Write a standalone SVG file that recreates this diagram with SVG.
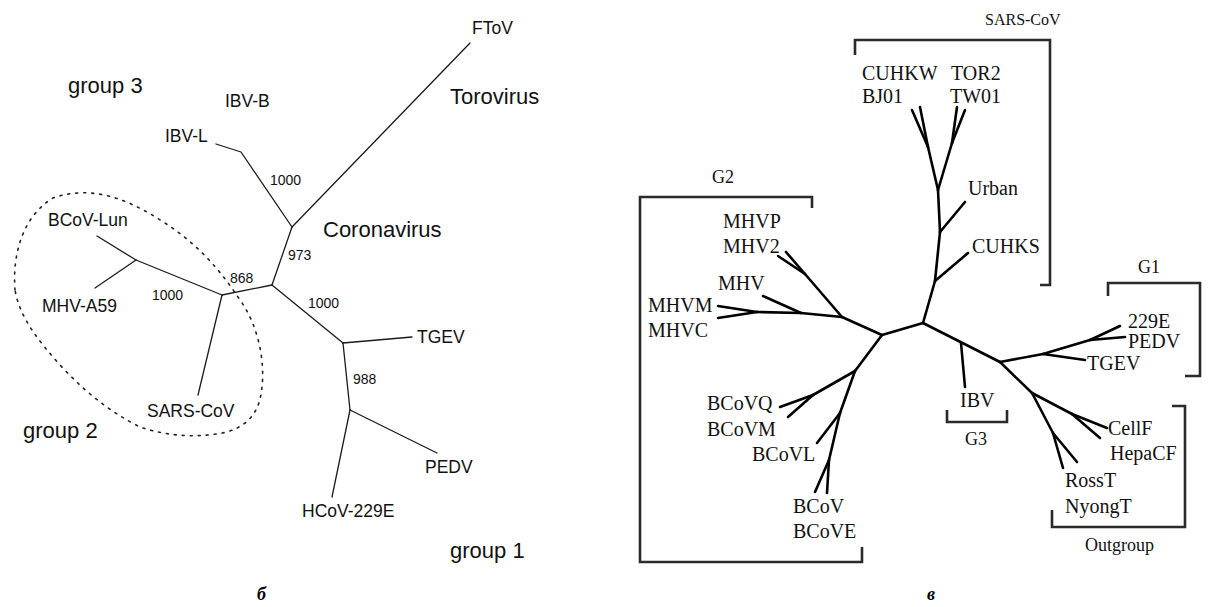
<svg xmlns="http://www.w3.org/2000/svg" width="1208" height="607" viewBox="0 0 1208 607">
<style>
.sans{font-family:"Liberation Sans",Arial,sans-serif;fill:#111}
.big{font-size:22px}
.lab{font-size:17.5px}
.num{font-size:14px}
.serif{font-family:"Liberation Serif","Times New Roman",serif;fill:#111;font-size:20px}
.grp{font-size:18px}
.tl{fill:none;stroke:#1a1a1a;stroke-width:1.3;stroke-linecap:round;stroke-linejoin:round}
.tr{fill:none;stroke:#000;stroke-width:2.6;stroke-linecap:round;stroke-linejoin:round}
.br{fill:none;stroke:#2a2a2a;stroke-width:2.6}
.ell{fill:none;stroke:#222;stroke-width:1.6;stroke-dasharray:2 6;stroke-linecap:round}
.pan{font-family:"Liberation Serif","Times New Roman",serif;font-style:italic;font-weight:bold;font-size:18px;fill:#000}
</style>
<rect width="1208" height="607" fill="#fff"/>

<g id="left-tree">
<g id="connectors-left">
<polyline class="tl" points="216,144 241,152 292,227"/>
<line class="tl" x1="292" y1="227" x2="470" y2="43"/>
<line class="tl" x1="292" y1="227" x2="272" y2="285"/>
<line class="tl" x1="272" y1="285" x2="222" y2="295"/>
<line class="tl" x1="222" y1="295" x2="198" y2="395"/>
<line class="tl" x1="222" y1="295" x2="136" y2="260"/>
<line class="tl" x1="136" y1="260" x2="97" y2="236"/>
<line class="tl" x1="136" y1="260" x2="95" y2="288"/>
<line class="tl" x1="272" y1="285" x2="343" y2="343"/>
<line class="tl" x1="343" y1="343" x2="412" y2="337"/>
<line class="tl" x1="343" y1="343" x2="350" y2="410"/>
<line class="tl" x1="350" y1="410" x2="437" y2="453"/>
<line class="tl" x1="350" y1="410" x2="332" y2="497"/>
</g>
<path id="group2-outline" class="ell" d="M15,290 C12,250 25,215 53,198 C90,185 125,198 157,218 C190,238 215,262 240,300 C258,325 265,360 262,387 C260,410 250,425 227,432 C200,438 170,437 140,427 C110,412 85,392 60,365 C38,340 20,318 15,290 Z"/>
<g id="n-group3"><text class="sans big" x="68" y="93">group 3</text></g>
<g id="n-IBV-B"><text class="sans lab" x="225" y="107">IBV-B</text></g>
<g id="n-IBV-L"><text class="sans lab" x="165" y="142">IBV-L</text></g>
<g id="n-FToV"><text class="sans lab" x="472" y="34">FToV</text></g>
<g id="n-Torovirus"><text class="sans big" x="450" y="104">Torovirus</text></g>
<g id="n-Coronavirus"><text class="sans big" x="323" y="237">Coronavirus</text></g>
<g id="b-1000a"><text class="sans num" x="270" y="185">1000</text></g>
<g id="b-973"><text class="sans num" x="288" y="260">973</text></g>
<g id="b-868"><text class="sans num" x="230" y="283">868</text></g>
<g id="b-1000b"><text class="sans num" x="152" y="300">1000</text></g>
<g id="b-1000c"><text class="sans num" x="308" y="308">1000</text></g>
<g id="b-988"><text class="sans num" x="353" y="384">988</text></g>
<g id="n-BCoV-Lun"><text class="sans lab" x="48" y="226">BCoV-Lun</text></g>
<g id="n-MHV-A59"><text class="sans lab" x="42" y="312">MHV-A59</text></g>
<g id="n-SARS-CoV-l"><text class="sans lab" x="147" y="417">SARS-CoV</text></g>
<g id="n-group2"><text class="sans big" x="23" y="438">group 2</text></g>
<g id="n-TGEV-l"><text class="sans lab" x="417" y="343">TGEV</text></g>
<g id="n-PEDV-l"><text class="sans lab" x="425" y="473">PEDV</text></g>
<g id="n-HCoV"><text class="sans lab" x="302" y="517">HCoV-229E</text></g>
<g id="n-group1"><text class="sans big" x="450" y="558">group 1</text></g>
<text class="pan" x="257" y="600">б</text>
</g>

<g id="right-tree">
<g id="connectors-right">
<!-- SARS clade -->
<line class="tr" x1="923" y1="323" x2="935" y2="281"/>
<line class="tr" x1="935" y1="281" x2="940" y2="232"/>
<line class="tr" x1="940" y1="232" x2="938" y2="190"/>
<line class="tr" x1="935" y1="281" x2="968" y2="253"/>
<line class="tr" x1="940" y1="232" x2="965" y2="202"/>
<line class="tr" x1="938" y1="190" x2="928" y2="147"/>
<line class="tr" x1="928" y1="147" x2="912" y2="110"/>
<line class="tr" x1="928" y1="147" x2="920" y2="107"/>
<line class="tr" x1="938" y1="190" x2="952" y2="143"/>
<line class="tr" x1="952" y1="143" x2="957" y2="107"/>
<line class="tr" x1="952" y1="143" x2="965" y2="110"/>
<!-- G2 -->
<line class="tr" x1="923" y1="323" x2="882" y2="335"/>
<line class="tr" x1="882" y1="335" x2="842" y2="317"/>
<line class="tr" x1="842" y1="317" x2="805" y2="274"/>
<line class="tr" x1="805" y1="274" x2="778" y2="256"/>
<line class="tr" x1="805" y1="274" x2="786" y2="252"/>
<line class="tr" x1="842" y1="317" x2="801" y2="313"/>
<line class="tr" x1="801" y1="313" x2="763" y2="296"/>
<line class="tr" x1="801" y1="313" x2="757" y2="312"/>
<line class="tr" x1="757" y1="312" x2="718" y2="306"/>
<line class="tr" x1="757" y1="312" x2="718" y2="318"/>
<line class="tr" x1="882" y1="335" x2="855" y2="371"/>
<line class="tr" x1="855" y1="371" x2="813" y2="395"/>
<line class="tr" x1="813" y1="395" x2="780" y2="407"/>
<line class="tr" x1="813" y1="395" x2="788" y2="417"/>
<line class="tr" x1="855" y1="371" x2="840" y2="413"/>
<line class="tr" x1="840" y1="413" x2="817" y2="443"/>
<line class="tr" x1="840" y1="413" x2="829" y2="460"/>
<line class="tr" x1="829" y1="460" x2="815" y2="492"/>
<line class="tr" x1="829" y1="460" x2="827" y2="493"/>
<!-- G3 / G1 / outgroup -->
<line class="tr" x1="923" y1="323" x2="1000" y2="362"/>
<line class="tr" x1="961" y1="343" x2="965" y2="387"/>
<line class="tr" x1="1000" y1="362" x2="1043" y2="354"/>
<line class="tr" x1="1043" y1="354" x2="1090" y2="340"/>
<line class="tr" x1="1090" y1="340" x2="1120" y2="326"/>
<line class="tr" x1="1090" y1="340" x2="1125" y2="337"/>
<line class="tr" x1="1043" y1="354" x2="1085" y2="360"/>
<line class="tr" x1="1000" y1="362" x2="1032" y2="393"/>
<line class="tr" x1="1032" y1="393" x2="1072" y2="414"/>
<line class="tr" x1="1072" y1="414" x2="1107" y2="428"/>
<line class="tr" x1="1072" y1="414" x2="1100" y2="438"/>
<line class="tr" x1="1032" y1="393" x2="1053" y2="433"/>
<line class="tr" x1="1053" y1="433" x2="1063" y2="468"/>
<line class="tr" x1="1053" y1="433" x2="1077" y2="462"/>
</g>
<g id="brackets">
<path class="br" d="M855,55 V40 H1050 V285 H1040"/>
<path class="br" d="M812,208 V197 H640 V562 H862 V547"/>
<path class="br" d="M1108,296 V283 H1200 V376 H1185"/>
<path class="br" d="M947,410 V422 H1007 V410"/>
<path class="br" d="M1172,406 H1185 V527 H1052 V510"/>
</g>
<g id="n-SARS-CoV-r"><text class="serif" style="font-size:16px" x="985" y="25">SARS-CoV</text></g>
<g id="n-CUHKW"><text class="serif" x="862" y="80">CUHKW</text></g>
<g id="n-TOR2"><text class="serif" x="951" y="80">TOR2</text></g>
<g id="n-BJ01"><text class="serif" x="862" y="103">BJ01</text></g>
<g id="n-TW01"><text class="serif" x="950" y="103">TW01</text></g>
<g id="n-Urban"><text class="serif" x="968" y="195">Urban</text></g>
<g id="n-CUHKS"><text class="serif" x="972" y="253">CUHKS</text></g>
<g id="n-G2"><text class="serif grp" x="712" y="183">G2</text></g>
<g id="n-MHVP"><text class="serif" x="723" y="228">MHVP</text></g>
<g id="n-MHV2"><text class="serif" x="723" y="253">MHV2</text></g>
<g id="n-MHV"><text class="serif" x="718" y="290">MHV</text></g>
<g id="n-MHVM"><text class="serif" x="648" y="312">MHVM</text></g>
<g id="n-MHVC"><text class="serif" x="648" y="337">MHVC</text></g>
<g id="n-BCoVQ"><text class="serif" x="707" y="410">BCoVQ</text></g>
<g id="n-BCoVM"><text class="serif" x="707" y="436">BCoVM</text></g>
<g id="n-BCoVL"><text class="serif" x="752" y="461">BCoVL</text></g>
<g id="n-BCoV"><text class="serif" x="793" y="513">BCoV</text></g>
<g id="n-BCoVE"><text class="serif" x="793" y="538">BCoVE</text></g>
<g id="n-G1"><text class="serif grp" x="1138" y="273">G1</text></g>
<g id="n-229E"><text class="serif" x="1128" y="328">229E</text></g>
<g id="n-PEDV-r"><text class="serif" x="1128" y="348">PEDV</text></g>
<g id="n-TGEV-r"><text class="serif" x="1087" y="370">TGEV</text></g>
<g id="n-IBV"><text class="serif" x="960" y="407">IBV</text></g>
<g id="n-G3"><text class="serif grp" x="965" y="445">G3</text></g>
<g id="n-CellF"><text class="serif" x="1108" y="435">CellF</text></g>
<g id="n-HepaCF"><text class="serif" x="1110" y="460">HepaCF</text></g>
<g id="n-RossT"><text class="serif" x="1065" y="487">RossT</text></g>
<g id="n-NyongT"><text class="serif" x="1065" y="513">NyongT</text></g>
<g id="n-Outgroup"><text class="serif grp" x="1085" y="551">Outgroup</text></g>
<text class="pan" x="927" y="600">в</text>
</g>
</svg>
